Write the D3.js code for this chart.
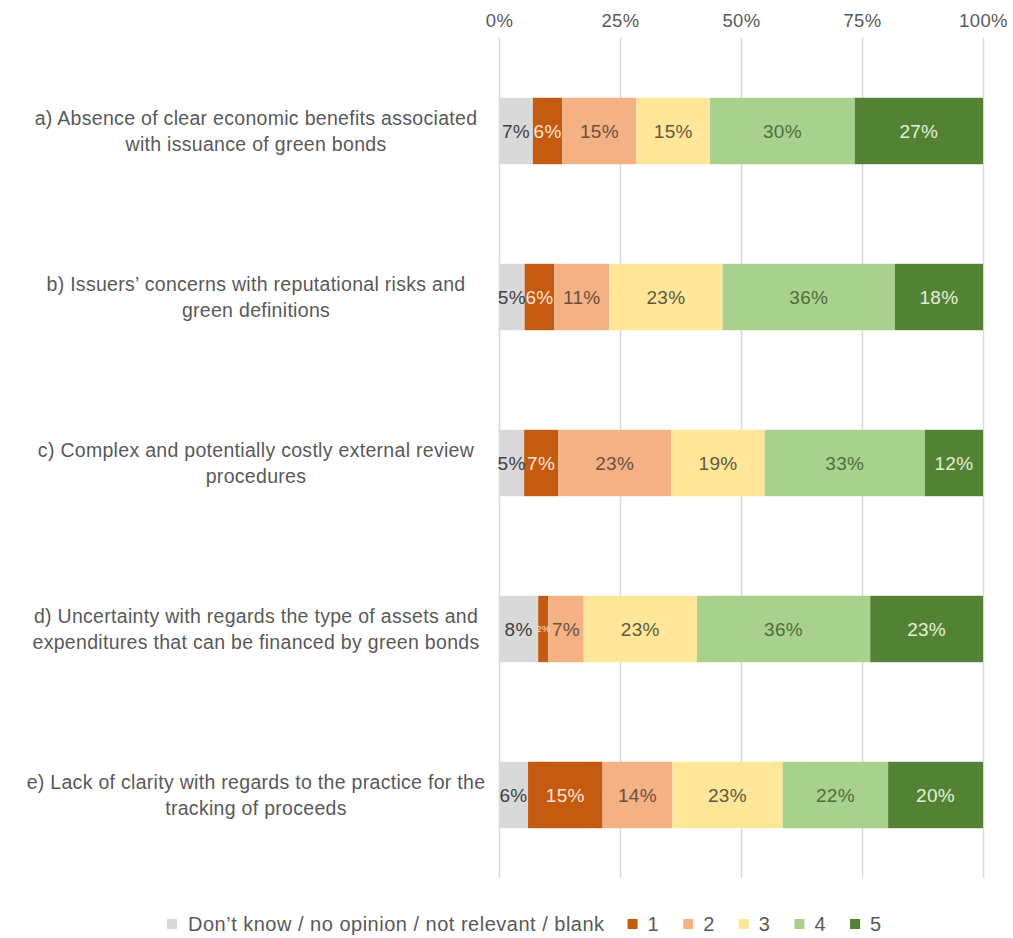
<!DOCTYPE html>
<html>
<head>
<meta charset="utf-8">
<script src="https://cdn.jsdelivr.net/npm/d3@7"></script>
<style>
  html, body { margin: 0; padding: 0; background: #fff; }
  svg { display: block; font-family: "Liberation Sans", Arial, sans-serif; }
</style>
</head>
<body>
<svg id="chart" width="1013" height="938"></svg>
<script>
// ---- data ----
const categories = [
  "a) Absence of clear economic benefits associated\nwith issuance of green bonds",
  "b) Issuers’ concerns with reputational risks and\ngreen definitions",
  "c) Complex and potentially costly external review\nprocedures",
  "d) Uncertainty with regards the type of assets and\nexpenditures that can be financed by green bonds",
  "e) Lack of clarity with regards to the practice for the\ntracking of proceeds"
];
const seriesNames = ["Don’t know / no opinion / not relevant / blank", "1", "2", "3", "4", "5"];
const dontKnow = [7.0, 5.3, 5.2, 8.1, 6.0];
const score1   = [6.1, 6.1, 7.0, 2.1, 15.4];
const score2   = [15.3, 11.4, 23.4, 7.3, 14.4];
const score3   = [15.2, 23.4, 19.3, 23.4, 22.8];
const score4   = [29.9, 35.6, 33.1, 35.8, 21.8];
const score5   = [26.5, 18.2, 12.0, 23.3, 19.6];
const tickValues = [0, 25, 50, 75, 100];
const tickLabels = ["0%", "25%", "50%", "75%", "100%"];

const seriesValues = [dontKnow, score1, score2, score3, score4, score5];
const colors = ["#d9d9d9", "#c55a11", "#f4b183", "#ffe699", "#a9d18e", "#548235"];
const labelColors = ["#404040", "#fbe5d6", "#6b5040", "#5e5a40", "#4e6e3a", "#e2f0d9"];

// ---- build table ----
const keys = seriesNames.map((d, i) => "s" + i);
const table = categories.map((c, ci) => {
  const row = { category: c };
  keys.forEach((k, si) => row[k] = seriesValues[si][ci]);
  return row;
});
const stacked = d3.stack().keys(keys)(table);

const svg = d3.select("#chart");
const x = d3.scaleLinear().domain([0, 100]).range([499, 983]);
const y = d3.scaleBand().domain(categories).range([48, 878]).paddingInner(0.6).paddingOuter(0.3);

// gridlines + top axis
const axis = d3.axisTop(x).tickValues(tickValues)
  .tickFormat((d, i) => tickLabels[i]).tickSize(-(878 - 38)).tickPadding(11);
const gAxis = svg.append("g").attr("transform", "translate(0,38)").call(axis);
gAxis.select(".domain").remove();
gAxis.selectAll(".tick line").attr("stroke", "#d9d9d9").attr("stroke-width", 1.5);
gAxis.selectAll(".tick text").attr("fill", "#595959").attr("font-size", 18.5)
  .attr("letter-spacing", 0.4)
  .attr("font-family", "'Liberation Sans', Arial, sans-serif");

// bars
const layers = svg.append("g").selectAll("g").data(stacked).join("g")
  .attr("fill", (d, i) => colors[i]);
layers.selectAll("rect").data(d => d).join("rect")
  .attr("x", d => x(d[0]))
  .attr("width", d => x(d[1]) - x(d[0]))
  .attr("y", d => y(d.data.category))
  .attr("height", y.bandwidth());

// data labels
const baseSize = 19;
const lab = svg.append("g").selectAll("g").data(stacked).join("g")
  .attr("fill", (d, i) => labelColors[i]);
lab.selectAll("text").data(d => d).join("text")
  .attr("x", d => (x(d[0]) + x(d[1])) / 2)
  .attr("y", d => y(d.data.category) + y.bandwidth() / 2)
  .attr("dy", "0.35em")
  .attr("text-anchor", "middle")
  .attr("font-size", baseSize)
  .attr("letter-spacing", 0.3)
  .text(d => Math.round(d[1] - d[0]) + "%")
  .each(function(d) {
    // shrink labels that are much wider than their segment
    const segW = x(d[1]) - x(d[0]);
    const w = this.getComputedTextLength();
    if (w > segW + 6) {
      d3.select(this).attr("font-size", Math.max(8, baseSize * (segW + 4) / w))
        .attr("letter-spacing", 0);
    }
  });

// category labels
const catG = svg.append("g").selectAll("text").data(categories).join("text")
  .attr("text-anchor", "middle")
  .attr("fill", "#595959")
  .attr("font-size", 19.5)
  .attr("letter-spacing", 0.3);
catG.each(function(c) {
  const lines = c.split("\n");
  const cy = y(c) + y.bandwidth() / 2;
  const t = d3.select(this);
  lines.forEach((ln, i) => {
    t.append("tspan").attr("x", 256).attr("y", cy - 6 + i * 26).text(ln);
  });
});

// legend
const legend = svg.append("g").attr("transform", "translate(0,924)");
let lx = 167;
seriesNames.forEach((name, i) => {
  const g = legend.append("g").attr("transform", `translate(${lx},0)`);
  g.append("rect").attr("x", 0).attr("y", -5).attr("width", 10).attr("height", 10).attr("fill", colors[i]);
  const t = g.append("text").attr("x", i === 0 ? 21 : 20).attr("y", 0).attr("dy", "0.35em")
    .attr("fill", "#595959").attr("font-size", 20).attr("letter-spacing", 0.5).text(name);
  const w = t.node().getComputedTextLength();
  lx += 20 + w + 24;
});
</script>
</body>
</html>
